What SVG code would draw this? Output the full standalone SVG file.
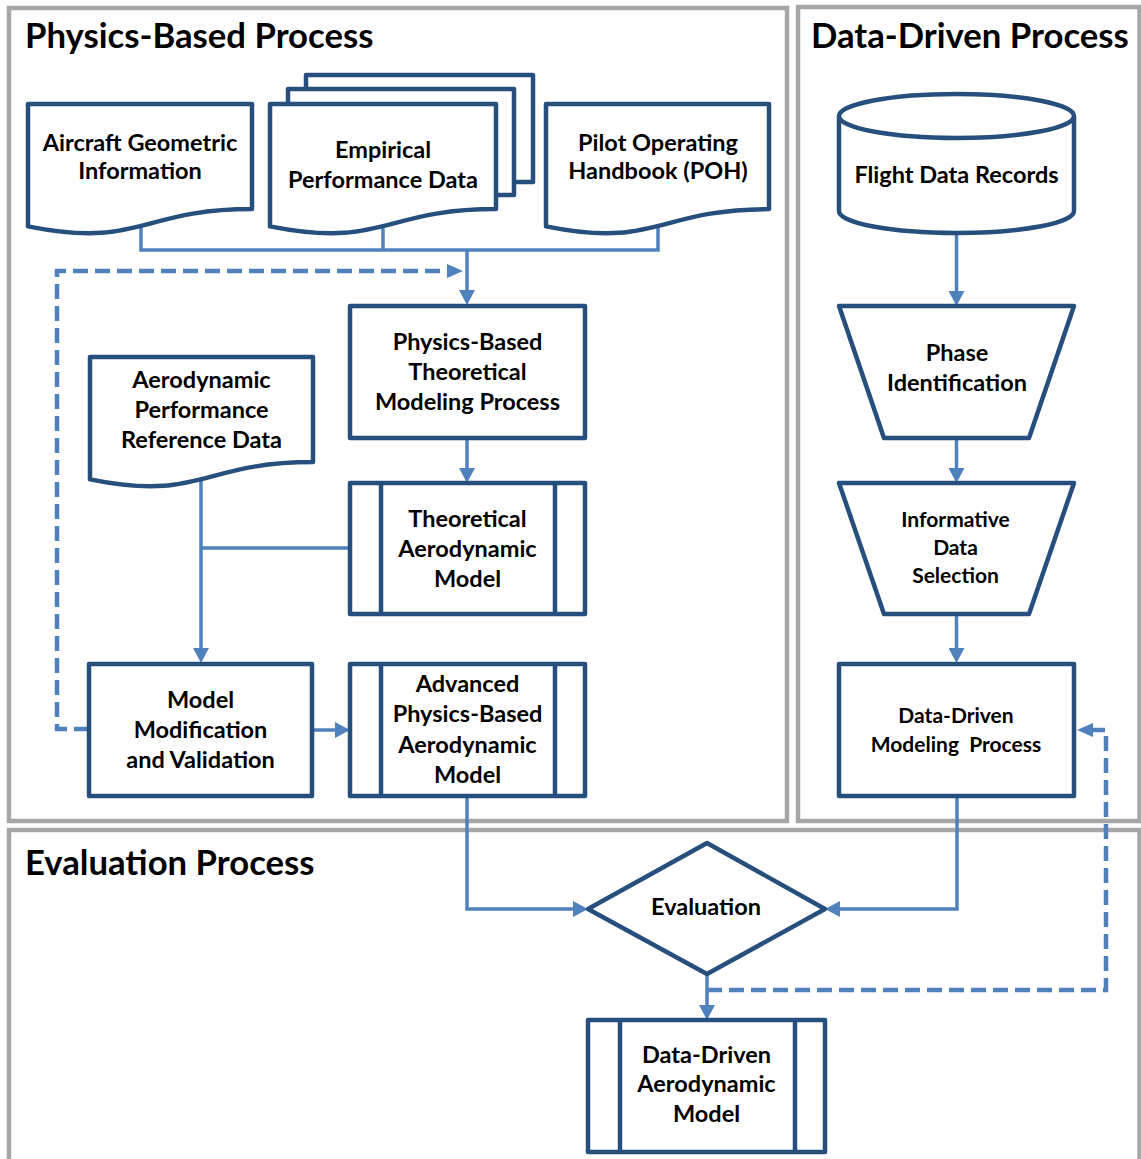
<svg xmlns="http://www.w3.org/2000/svg" width="1141" height="1159" viewBox="0 0 1141 1159">
<defs>
<style>
.panel{fill:none;stroke:#a6a6a6;stroke-width:4.5}
.box{fill:#fff;stroke:#264f7d;stroke-width:4.5;stroke-linejoin:round}
.inner{fill:none;stroke:#264f7d;stroke-width:4.5}
.con{fill:none;stroke:#4f81bd;stroke-width:3.5}
.dash{fill:none;stroke:#4f81bd;stroke-width:4.5;stroke-dasharray:15 7}
.title{font-family:Lato,"Liberation Sans",sans-serif;font-weight:700;font-size:34.7px;fill:#000}
.t{font-family:Lato,"Liberation Sans",sans-serif;font-weight:700;font-size:23.5px;fill:#000;text-anchor:middle}
.s{font-family:Lato,"Liberation Sans",sans-serif;font-weight:700;font-size:21px;fill:#000;text-anchor:middle}
</style>
<marker id="ah" markerUnits="userSpaceOnUse" markerWidth="16" markerHeight="16" refX="9" refY="8" orient="auto">
<path d="M0,0 L15,8 L0,16 Z" fill="#4f81bd"/>
</marker>
<marker id="ahd" markerUnits="userSpaceOnUse" markerWidth="17" markerHeight="14" refX="10" refY="7" orient="auto">
<path d="M0,0 L16,7 L0,14 Z" fill="#4f81bd"/>
</marker>
</defs>
<rect width="1141" height="1159" fill="#fff"/>
<g id="panels">
<rect class="panel" x="9" y="8" width="778" height="813"/>
<rect class="panel" x="798" y="7" width="341.5" height="814"/>
<rect class="panel" x="9" y="830" width="1130.5" height="340"/>
<text class="title" x="25" y="48">Physics-Based Process</text>
<text class="title" x="811" y="48">Data-Driven Process</text>
<text class="title" x="25" y="875">Evaluation Process</text>
</g>
<g id="connectors">
<path class="con" d="M141,224 V250 H658 V224"/>
<path class="con" d="M383,224 V250"/>
<path class="con" d="M467,250 V299" marker-end="url(#ah)"/>
<path class="dash" d="M89,729 H57 V271 H457" marker-end="url(#ahd)"/>
<path class="con" d="M467,438 V477" marker-end="url(#ah)"/>
<path class="con" d="M201,480 V657" marker-end="url(#ah)"/>
<path class="con" d="M201,548 H350"/>
<path class="con" d="M312,730 H344" marker-end="url(#ah)"/>
<path class="con" d="M467,796 V909 H582" marker-end="url(#ah)"/>
<path class="con" d="M956.5,233 V300" marker-end="url(#ah)"/>
<path class="con" d="M956.5,438 V477" marker-end="url(#ah)"/>
<path class="con" d="M956.5,614 V657" marker-end="url(#ah)"/>
<path class="con" d="M957,796 V909 H831" marker-end="url(#ah)"/>
<path class="con" d="M707,974 V1014" marker-end="url(#ah)"/>
<path class="dash" d="M707,990 H1106 V730 H1083" marker-end="url(#ahd)"/>
</g>
<g id="aircraft-geometric">
<path class="box" d="M28,104 H252 V209.1 C140,209.1 140,249 28,226.4 Z"/>
<text class="t" x="140" y="151">Aircraft Geometric</text>
<text class="t" x="140" y="179">Information</text>
</g>
<g id="empirical-data">
<rect class="box" x="306" y="75" width="227" height="107"/>
<rect class="box" x="288" y="89" width="226" height="106"/>
<path class="box" d="M270,104 H496 V209.1 C383,209.1 383,249 270,226.4 Z"/>
<text class="t" x="383" y="158">Empirical</text>
<text class="t" x="383" y="188">Performance Data</text>
</g>
<g id="poh">
<path class="box" d="M546,104 H769 V209.1 C657.5,209.1 657.5,249 546,226.4 Z"/>
<text class="t" x="658" y="151">Pilot Operating</text>
<text class="t" x="658" y="179">Handbook (POH)</text>
</g>
<g id="physics-theoretical-process">
<rect class="box" x="350" y="306" width="235" height="132"/>
<text class="t" x="467.5" y="350">Physics-Based</text>
<text class="t" x="467.5" y="380">Theoretical</text>
<text class="t" x="467.5" y="410">Modeling Process</text>
</g>
<g id="aero-reference-data">
<path class="box" d="M90,357 H313 V462.1 C201.5,462.1 201.5,502 90,479.4 Z"/>
<text class="t" x="201.5" y="388">Aerodynamic</text>
<text class="t" x="201.5" y="418">Performance</text>
<text class="t" x="201.5" y="448">Reference Data</text>
</g>
<g id="theoretical-aero-model">
<rect class="box" x="350" y="483" width="235" height="131"/>
<path class="inner" d="M381,483 V614 M555,483 V614"/>
<text class="t" x="467.5" y="527">Theoretical</text>
<text class="t" x="467.5" y="557">Aerodynamic</text>
<text class="t" x="467.5" y="587">Model</text>
</g>
<g id="model-modification">
<rect class="box" x="89" y="664" width="223" height="132"/>
<text class="t" x="200.5" y="708">Model</text>
<text class="t" x="200.5" y="738">Modification</text>
<text class="t" x="200.5" y="768">and Validation</text>
</g>
<g id="advanced-aero-model">
<rect class="box" x="350" y="664" width="235" height="132"/>
<path class="inner" d="M381,664 V796 M555,664 V796"/>
<text class="t" x="467.5" y="692">Advanced</text>
<text class="t" x="467.5" y="722">Physics-Based</text>
<text class="t" x="467.5" y="753">Aerodynamic</text>
<text class="t" x="467.5" y="783">Model</text>
</g>
<g id="flight-data-records">
<path class="box" d="M839,116 V211 A117.5,22 0 0 0 1074,211 V116 A117.5,22 0 0 0 839,116 Z"/>
<path class="inner" d="M839,116 A117.5,22 0 0 0 1074,116"/>
<text class="t" x="956.5" y="183">Flight Data Records</text>
</g>
<g id="phase-identification">
<path class="box" d="M839,306 H1074 L1029,438 H884 Z"/>
<text class="t" x="957" y="361">Phase</text>
<text class="t" x="957" y="391">Identification</text>
</g>
<g id="informative-data-selection">
<path class="box" d="M839,483 H1074 L1029,614 H884 Z"/>
<text class="s" x="955.5" y="527">Informative</text>
<text class="s" x="955.5" y="555">Data</text>
<text class="s" x="955.5" y="583">Selection</text>
</g>
<g id="data-driven-modeling">
<rect class="box" x="839" y="664" width="235" height="132"/>
<text class="s" x="956" y="723">Data-Driven</text>
<text class="s" x="956" y="752" style="white-space:pre">Modeling  Process</text>
</g>
<g id="evaluation">
<path class="box" d="M588,909 L707,843 L825,909 L707,974 Z"/>
<text class="t" x="706" y="915">Evaluation</text>
</g>
<g id="data-driven-aero-model">
<rect class="box" x="588" y="1020" width="237" height="132"/>
<path class="inner" d="M620,1020 V1152 M795,1020 V1152"/>
<text class="t" x="706.5" y="1063">Data-Driven</text>
<text class="t" x="706.5" y="1092">Aerodynamic</text>
<text class="t" x="706.5" y="1122">Model</text>
</g>
</svg>
